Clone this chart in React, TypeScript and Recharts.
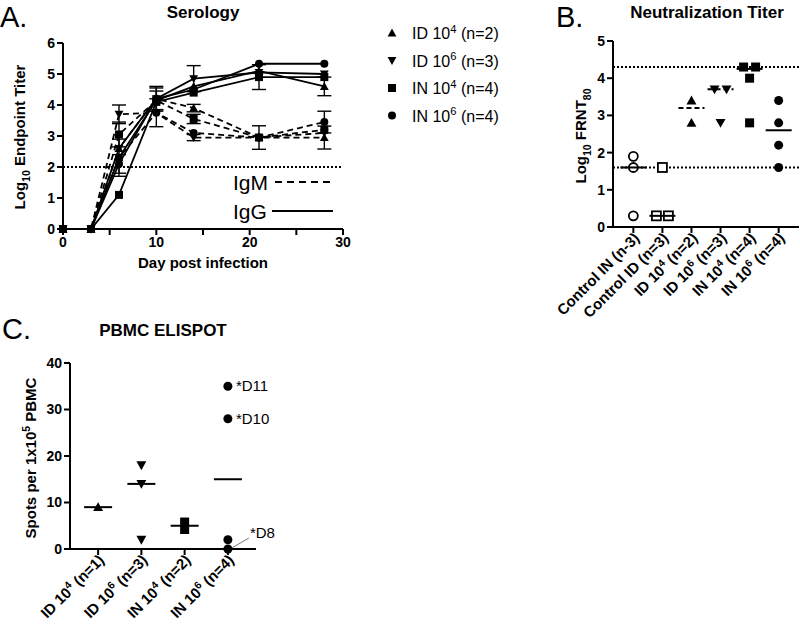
import React from 'react'
import {
  LineChart,
  Line,
  XAxis,
  YAxis,
  ErrorBar,
  ReferenceLine,
  ScatterChart,
  Scatter,
} from 'recharts'

const FONT = '"Liberation Sans", Arial, Helvetica, sans-serif'

// ---- A. Serology (log10 endpoint titer by day) ----
const days = [0, 3, 6, 10, 14, 21, 28]

const id4IgG = [0, 0, 2.3, 4.15, 4.6, 5.1, 4.6]
const id6IgG = [0, 0, 2.6, 4.2, 4.85, 5.05, 5.0]
const in4IgG = [0, 0, 1.1, 4.1, 4.4, 4.9, 4.9]
const in6IgG = [0, 0, 2.1, 4.2, 4.5, 5.33, 5.33]

const id4IgM = [0, 0, 2.6, 4.2, 3.9, 2.95, 2.95]
const id6IgM = [0, 0, 3.7, 3.75, 2.95, 2.95, 3.1]
const in4IgM = [0, 0, 3.05, 4.15, 3.55, 2.95, 3.2]
const in6IgM = [0, 0, 2.3, 3.75, 3.1, 2.95, 3.45]

const id4IgGErr = [0, 0, 0, 0.3, 0, 0, 0.3]
const id6IgGErr = [0, 0, 0, 0.35, 0.42, 0, 0]
const in4IgGErr = [0, 0, 0, 0, 0, 0.4, 0]
const in6IgGErr = [0, 0, 0.3, 0, 0, 0, 0]

const id4IgMErr = [0, 0, 0, 0.4, 0.12, 0, 0.37]
const id6IgMErr = [0, 0, 0.3, 0.45, 0.1, 0.38, 0]
const in4IgMErr = [0, 0, 0.4, 0, 0.15, 0, 0]
const in6IgMErr = [0, 0, 0.6, 0, 0, 0, 0.35]

const groupNames = ['ID 10^4 (n=2)', 'ID 10^6 (n=3)', 'IN 10^4 (n=4)', 'IN 10^6 (n=4)']

// ---- B. Neutralization titer (log10 FRNT80) ----
const neutCategories = [
  'Control IN (n-3)',
  'Control ID (n=3)',
  'ID 10^4 (n=2)',
  'ID 10^6 (n=3)',
  'IN 10^4 (n=4)',
  'IN 10^6 (n=4)',
]
const neutValues = [
  [1.9, 1.6, 0.3],
  [1.6, 0.3, 0.3],
  [3.4, 2.8],
  [3.7, 3.7, 2.8],
  [4.3, 4.3, 4.0, 2.8],
  [3.4, 2.8, 2.2, 1.6],
]
const neutMedians = [1.6, 0.3, 3.2, 3.7, 4.25, 2.6]
const neutLimits = [4.3, 1.6]

// ---- C. PBMC ELISPOT ----
const spotCategories = ['ID 10^4 (n=1)', 'ID 10^6 (n=3)', 'IN 10^4 (n=2)', 'IN 10^6 (n=4)']
const spotValues = [[9], [18, 14, 2], [5.8, 4.2], [35, 28, 2, 0]]
const spotMedians = [9, 14, 5, 15]
const spotNotes = [[''], ['', '', ''], ['', ''], ['*D11', '*D10', '', '*D8']]

type Shape = 'up' | 'down' | 'square' | 'circle'
const groupShapes: Shape[] = ['up', 'down', 'square', 'circle']
const neutShapes: Shape[] = ['circle', 'square', 'up', 'down', 'square', 'circle']
const neutOpen = [true, true, false, false, false, false]

function Marker({ cx, cy, shape, size = 8, open = false }: any) {
  const s = size
  const fill = open ? '#fff' : '#000'
  const sw = open ? 1.8 : 0
  if (cx == null || cy == null) return null
  if (shape === 'circle') return <circle cx={cx} cy={cy} r={s / 2} fill={fill} stroke="#000" strokeWidth={sw} />
  if (shape === 'square')
    return <rect x={cx - s / 2} y={cy - s / 2} width={s} height={s} fill={fill} stroke="#000" strokeWidth={sw} />
  const h = s * 0.55
  if (shape === 'up')
    return <polygon points={`${cx},${cy - h} ${cx - h},${cy + h * 0.8} ${cx + h},${cy + h * 0.8}`} fill={fill} />
  return <polygon points={`${cx},${cy + h} ${cx - h},${cy - h * 0.8} ${cx + h},${cy - h * 0.8}`} fill={fill} />
}

// text with ^n superscripts and _n subscripts
function rich(text: string, size: number) {
  const parts = text.split(/([\^_]\d+)/).filter((p) => p !== '')
  let shift = 0
  return parts.map((p, i) => {
    if (p[0] === '^' || p[0] === '_') {
      const dy = p[0] === '^' ? -size * 0.38 : size * 0.3
      shift = dy
      return (
        <tspan key={i} dy={dy} fontSize={size * 0.7}>
          {p.slice(1)}
        </tspan>
      )
    }
    const back = -shift
    shift = 0
    return (
      <tspan key={i} dy={back}>
        {p}
      </tspan>
    )
  })
}

const tickStyle = { fill: '#000', fontSize: 14, fontWeight: 700, fontFamily: FONT }
const axisProps = {
  axisLine: { stroke: '#000', strokeWidth: 2 },
  tickLine: { stroke: '#000', strokeWidth: 2 },
  tickSize: 6,
}

function SlantTick({ x, y, payload, labels }: any) {
  const label = labels[payload.value]
  if (label == null) return null
  return (
    <g transform={`translate(${x + 7},${y + 4})`}>
      <text
        x={0}
        y={0}
        textAnchor="end"
        transform="rotate(-45)"
        fontSize={15}
        fontWeight={700}
        fontFamily={FONT}
        fill="#000"
      >
        {rich(label, 15)}
      </text>
    </g>
  )
}

function MedianBar({ cx, cy, width, dashed }: any) {
  if (cx == null || cy == null) return null
  return (
    <line
      x1={cx - width / 2}
      x2={cx + width / 2}
      y1={cy}
      y2={cy}
      stroke="#000"
      strokeWidth={2}
      strokeDasharray={dashed ? '5 3' : undefined}
    />
  )
}

// spread repeated values in a group sideways
function jitterPoints(values: number[], gi: number, notes?: string[]) {
  return values.map((v, k) => {
    const same = values.filter((w) => w === v).length
    const rank = values.slice(0, k).filter((w) => w === v).length
    const j = same > 1 ? rank - (same - 1) / 2 : 0
    return { x: gi, y: v, j, note: notes ? notes[k] : '' }
  })
}

const serologyRows = days.map((d, i) => ({
  day: d,
  id4G: id4IgG[i],
  id6G: id6IgG[i],
  in4G: in4IgG[i],
  in6G: in6IgG[i],
  id4M: id4IgM[i],
  id6M: id6IgM[i],
  in4M: in4IgM[i],
  in6M: in6IgM[i],
  id4GErr: id4IgGErr[i],
  id6GErr: id6IgGErr[i],
  in4GErr: in4IgGErr[i],
  in6GErr: in6IgGErr[i],
  id4MErr: id4IgMErr[i],
  id6MErr: id6IgMErr[i],
  in4MErr: in4IgMErr[i],
  in6MErr: in6IgMErr[i],
}))

const seriesKeys = ['id4', 'id6', 'in4', 'in6']

function SerologyChart() {
  return (
    <LineChart
      width={360}
      height={280}
      data={serologyRows}
      margin={{ top: 43, right: 17, bottom: 21, left: 33 }}
    >
      <XAxis
        type="number"
        dataKey="day"
        domain={[0, 30]}
        ticks={[0, 5, 10, 15, 20, 25, 30]}
        tickFormatter={(v: number) => (v % 10 === 0 ? String(v) : '')}
        tick={tickStyle}
        height={30}
        {...axisProps}
      />
      <YAxis type="number" domain={[0, 6]} ticks={[0, 1, 2, 3, 4, 5, 6]} tick={tickStyle} width={30} {...axisProps} />
      <ReferenceLine y={2} stroke="#000" strokeWidth={2} strokeDasharray="2 2" />
      {seriesKeys.map((k, gi) => (
        <Line
          key={k + 'M'}
          dataKey={k + 'M'}
          stroke="#000"
          strokeWidth={1.8}
          strokeDasharray="6 4"
          isAnimationActive={false}
          dot={(p: any) => <Marker key={`${k}M-${p.index}`} cx={p.cx} cy={p.cy} shape={groupShapes[gi]} />}
        >
          <ErrorBar dataKey={k + 'MErr'} width={7} stroke="#000" strokeWidth={1.4} direction="y" />
        </Line>
      ))}
      {seriesKeys.map((k, gi) => (
        <Line
          key={k + 'G'}
          dataKey={k + 'G'}
          stroke="#000"
          strokeWidth={1.8}
          isAnimationActive={false}
          dot={(p: any) => <Marker key={`${k}G-${p.index}`} cx={p.cx} cy={p.cy} shape={groupShapes[gi]} />}
        >
          <ErrorBar dataKey={k + 'GErr'} width={7} stroke="#000" strokeWidth={1.4} direction="y" />
        </Line>
      ))}
    </LineChart>
  )
}

function NeutralizationChart() {
  return (
    <ScatterChart width={270} height={360} margin={{ top: 41, right: 1, bottom: 13, left: 58 }}>
      <XAxis
        type="number"
        dataKey="x"
        domain={[-0.7, 5.7]}
        ticks={[0, 1, 2, 3, 4, 5]}
        tick={<SlantTick labels={neutCategories} />}
        height={120}
        interval={0}
        {...axisProps}
      />
      <YAxis
        type="number"
        dataKey="y"
        domain={[0, 5]}
        ticks={[0, 1, 2, 3, 4, 5]}
        tick={tickStyle}
        width={25}
        {...axisProps}
      />
      {neutLimits.map((v) => (
        <ReferenceLine key={v} y={v} stroke="#000" strokeWidth={2} strokeDasharray="2 2" />
      ))}
      {neutValues.map((vals, gi) => (
        <Scatter
          key={gi}
          data={jitterPoints(vals, gi)}
          isAnimationActive={false}
          shape={(p: any) => (
            <Marker cx={p.cx + p.payload.j * 12} cy={p.cy} shape={neutShapes[gi]} size={9} open={neutOpen[gi]} />
          )}
        />
      ))}
      <Scatter
        data={neutMedians.map((m, gi) => ({ x: gi, y: m }))}
        isAnimationActive={false}
        shape={(p: any) => <MedianBar cx={p.cx} cy={p.cy} width={26} dashed={p.payload.x === 2 || p.payload.x === 3} />}
      />
    </ScatterChart>
  )
}

function SpotMarker({ cx, cy, payload, shape }: any) {
  const note = payload.note
  return (
    <g>
      <Marker cx={cx} cy={cy} shape={shape} size={9} />
      {note && payload.y === 0 ? (
        <g>
          <line x1={cx + 4} y1={cy - 1} x2={cx + 21} y2={cy - 11} stroke="#777" strokeWidth={1} />
          <text x={cx + 22} y={cy - 11} fontSize={15} fontFamily={FONT} fill="#000">
            {note}
          </text>
        </g>
      ) : note ? (
        <text x={cx + 8} y={cy + 5} fontSize={15} fontFamily={FONT} fill="#000">
          {note}
        </text>
      ) : null}
    </g>
  )
}

function ElispotChart() {
  return (
    <ScatterChart width={300} height={284} margin={{ top: 23, right: 44, bottom: 5, left: 40 }}>
      <XAxis
        type="number"
        dataKey="x"
        domain={[-0.65, 3.65]}
        ticks={[0, 1, 2, 3]}
        tick={<SlantTick labels={spotCategories} />}
        height={70}
        interval={0}
        {...axisProps}
      />
      <YAxis
        type="number"
        dataKey="y"
        domain={[0, 40]}
        ticks={[0, 10, 20, 30, 40]}
        tick={tickStyle}
        width={30}
        {...axisProps}
      />
      <Scatter
        data={spotMedians.map((m, gi) => ({ x: gi, y: m }))}
        isAnimationActive={false}
        shape={(p: any) => <MedianBar cx={p.cx} cy={p.cy} width={28} />}
      />
      {spotValues.map((vals, gi) => (
        <Scatter
          key={gi}
          data={jitterPoints(vals, gi, spotNotes[gi])}
          isAnimationActive={false}
          shape={(p: any) => <SpotMarker cx={p.cx} cy={p.cy} payload={p.payload} shape={groupShapes[gi]} />}
        />
      ))}
    </ScatterChart>
  )
}

function Overlay() {
  const bold = { fontFamily: FONT, fontWeight: 700, fill: '#000' }
  const plain = { fontFamily: FONT, fill: '#000' }
  return (
    <svg width={800} height={624} style={{ position: 'absolute', left: 0, top: 0, pointerEvents: 'none' }}>
      {/* panel A */}
      <text x={0} y={27} fontSize={29} {...plain}>
        A.
      </text>
      <text x={203} y={18} fontSize={17} textAnchor="middle" {...bold}>
        Serology
      </text>
      <text transform="translate(25,137) rotate(-90)" fontSize={15} textAnchor="middle" {...bold}>
        {rich('Log_10 Endpoint Titer', 15)}
      </text>
      <text x={203} y={268} fontSize={15} textAnchor="middle" {...bold}>
        Day post infection
      </text>
      <text x={233} y={190} fontSize={21} {...plain}>
        IgM
      </text>
      <line x1={275} x2={333} y1={182} y2={182} stroke="#000" strokeWidth={2} strokeDasharray="7 5" />
      <text x={233} y={219} fontSize={21} {...plain}>
        IgG
      </text>
      <line x1={272} x2={333} y1={211} y2={211} stroke="#000" strokeWidth={2} />

      {groupNames.map((g, i) => (
        <g key={g}>
          <Marker cx={392} cy={33 + i * 27.5} shape={groupShapes[i]} size={8} />
          <text x={412} y={39 + i * 27.5} fontSize={16} {...plain}>
            {rich(g, 16)}
          </text>
        </g>
      ))}

      {/* panel B */}
      <text x={556} y={27} fontSize={29} {...plain}>
        B.
      </text>
      <text x={707} y={18} fontSize={17} textAnchor="middle" {...bold}>
        Neutralization Titer
      </text>
      <text transform="translate(586,136) rotate(-90)" fontSize={15} textAnchor="middle" {...bold}>
        {rich('Log_10 FRNT_80', 15)}
      </text>

      {/* panel C */}
      <text x={2} y={339} fontSize={29} {...plain}>
        C.
      </text>
      <text x={163} y={336} fontSize={17} textAnchor="middle" {...bold}>
        PBMC ELISPOT
      </text>
      <text transform="translate(36,458) rotate(-90)" fontSize={15} textAnchor="middle" {...bold}>
        {rich('Spots per 1x10^5 PBMC', 15)}
      </text>
    </svg>
  )
}

export default function App() {
  return (
    <div style={{ position: 'absolute', left: 0, top: 0, width: 800, height: 624, background: '#fff', fontFamily: FONT }}>
      <div style={{ position: 'absolute', left: 0, top: 0 }}>
        <SerologyChart />
      </div>
      <div style={{ position: 'absolute', left: 530, top: 0 }}>
        <NeutralizationChart />
      </div>
      <div style={{ position: 'absolute', left: 0, top: 340 }}>
        <ElispotChart />
      </div>
      <Overlay />
    </div>
  )
}
